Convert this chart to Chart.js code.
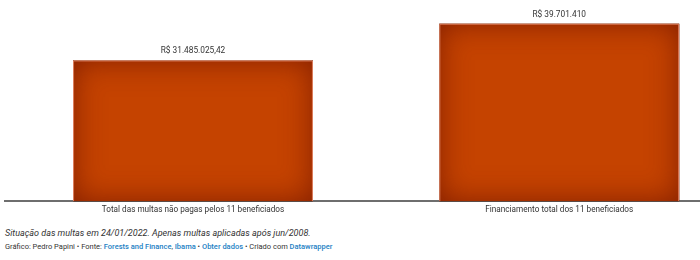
<!DOCTYPE html>
<html>
<head>
<meta charset="utf-8">
<script src="https://cdn.jsdelivr.net/npm/chart.js@4/dist/chart.umd.min.js"></script>
<style>
  body { margin: 0; background: #fff; font-family: Roboto, sans-serif; }
  #wrap { position: relative; width: 700px; height: 260px; overflow: hidden; }
  #box { position: absolute; left: 0; top: 0; width: 700px; height: 219px; }
  .note { position: absolute; left: 5px; top: 228px; font-size: 9px; font-style: italic; color: #333; white-space: nowrap; }
  .foot { position: absolute; left: 5px; top: 242px; font-size: 7.5px; color: #333; white-space: nowrap; }
  .foot a { color: #1d81c4; text-decoration: none; font-weight: 500; }
</style>
</head>
<body>
<div id="wrap">
  <div id="box"><canvas id="c"></canvas></div>
  <div class="note">Situação das multas em 24/01/2022. Apenas multas aplicadas após jun/2008.</div>
  <div class="foot">Gráfico: Pedro Papini • Fonte: <a>Forests and Finance</a>, <a>Ibama</a> • <a>Obter dados</a> • Criado com <a>Datawrapper</a></div>
</div>
<script>
// dados
const categorias = ['Total das multas não pagas pelos 11 beneficiados', 'Financiamento total dos 11 beneficiados'];
const valores = [31485025.42, 39701410];
const rotulos = ['R$ 31.485.025,42', 'R$ 39.701.410'];

// sombra interna das barras + rótulos de valor
const barEffects = {
    id: 'barEffects',
    afterDatasetsDraw(chart) {
        const ctx = chart.ctx;
        chart.getDatasetMeta(0).data.forEach((bar, i) => {
            const l = bar.x - bar.width / 2, t = bar.y, w = bar.width, h = bar.base - bar.y;
            ctx.save();
            ctx.beginPath();
            ctx.rect(l, t, w, h);
            ctx.clip();
            ctx.shadowColor = 'rgba(120, 25, 0, 0.85)';
            ctx.shadowBlur = 30;
            ctx.lineWidth = 40;
            ctx.strokeStyle = '#000';
            ctx.strokeRect(l - 20, t - 20, w + 40, h + 40);
            ctx.restore();

            ctx.save();
            ctx.strokeStyle = 'rgba(240, 150, 120, 0.8)';
            ctx.lineWidth = 1;
            ctx.beginPath();
            ctx.moveTo(l + 0.5, bar.base);
            ctx.lineTo(l + 0.5, t + 0.5);
            ctx.lineTo(l + w - 0.5, t + 0.5);
            ctx.lineTo(l + w - 0.5, bar.base);
            ctx.stroke();

            ctx.fillStyle = '#333';
            ctx.font = '8.3px Roboto';
            ctx.textAlign = 'center';
            ctx.textBaseline = 'middle';
            ctx.fillText(rotulos[i], bar.x, t - 9);
            ctx.restore();
        });
    }
};

const ctx = document.getElementById('c').getContext('2d');
const chart = new Chart(ctx, {
    type: 'bar',
    data: {
        datasets: [{
            data: valores.map((v, i) => ({ x: i, y: v })),
            backgroundColor: '#c54300',
            borderWidth: 0,
            barPercentage: 0.655,
            categoryPercentage: 1
        }]
    },
    options: {
        responsive: true, maintainAspectRatio: false,
        animation: false,
        layout: { padding: { left: 5, right: 0, top: 0, bottom: 0 } },
        plugins: { legend: { display: false }, tooltip: { enabled: false } },
        scales: {
            x: {
                type: 'linear', min: -0.5133, max: 1.3843, offset: false,
                afterBuildTicks: (s) => { s.ticks = categorias.map((c, i) => ({ value: i })); },
                grid: { display: false, drawTicks: false, offset: false },
                border: { display: true, color: '#6e6e6e', width: 2 },
                ticks: {
                    callback: (v) => categorias[v] || '',
                    color: '#333', font: { family: 'Roboto', size: 8.2 },
                    padding: 4, maxRotation: 0, autoSkip: false
                }
            },
            y: { display: false, min: 0, max: 45000000 }
        }
    },
    plugins: [barEffects]
});
</script>
</body>
</html>
